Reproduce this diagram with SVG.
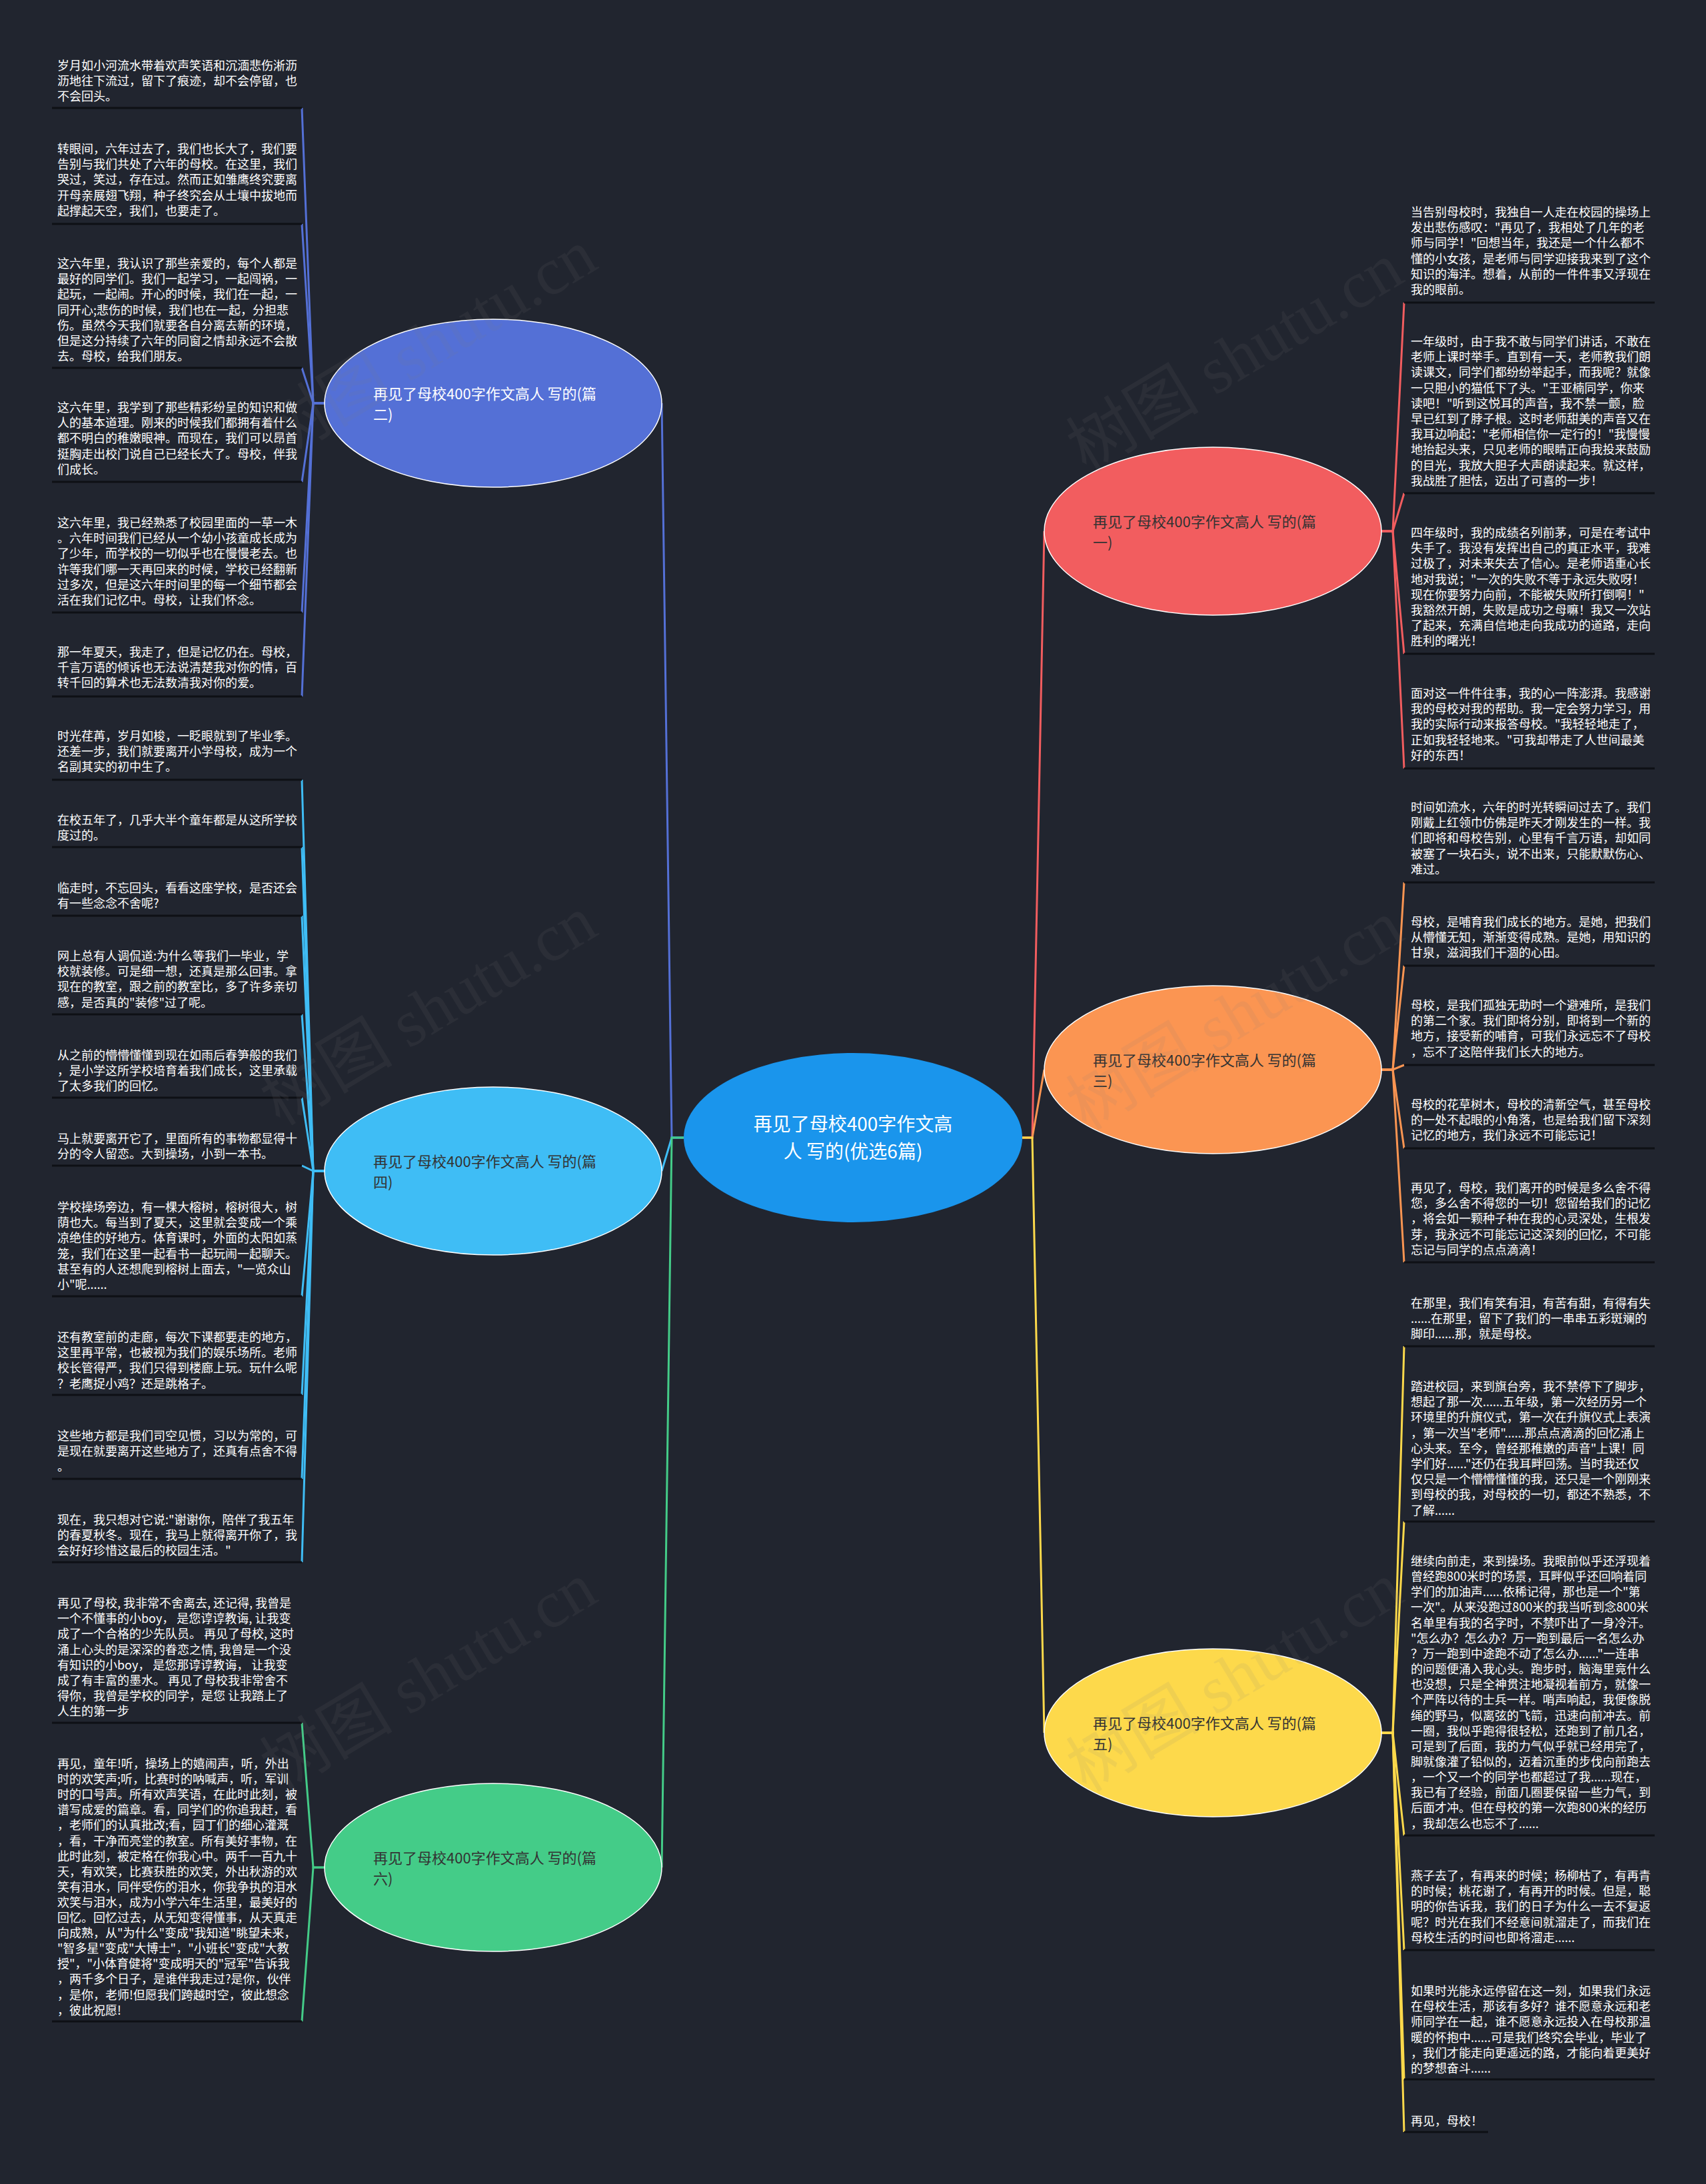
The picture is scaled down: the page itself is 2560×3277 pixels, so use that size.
<svg xmlns="http://www.w3.org/2000/svg" width="2560" height="3277" viewBox="0 0 2560 3277">
<style>
.lt{font-family:"Noto Sans CJK SC","Noto Sans",sans-serif;font-size:18px;fill:#ffffff;}
.ul{stroke:#0e1015;stroke-width:3;}
.nt{font-family:"Noto Sans CJK SC","Noto Sans",sans-serif;font-size:22px;}
.ct{font-family:"Noto Sans CJK SC","Noto Sans",sans-serif;font-size:28px;fill:#ffffff;text-anchor:middle;}
.br{stroke:#ffffff;stroke-width:1.5;}
.wm{font-family:"Liberation Serif","Noto Sans CJK SC",serif;font-size:100px;fill:#808080;opacity:0.1;}
</style>
<rect width="2560" height="3277" fill="#21252f"/>

<g id="connectors" fill="none" stroke-width="3">
<path stroke="#5470d6" d="M1026 1707 H1008 L993 605"/>
<path stroke="#3fbdf5" d="M1026 1707 H1008 L993 1757"/>
<path stroke="#44cc88" d="M1026 1707 H1008 L993 2802"/>
<path stroke="#f25d5f" d="M1534 1707 H1549 L1567 797"/>
<path stroke="#fb9552" d="M1534 1707 H1549 L1567 1605"/>
<path stroke="#fdd94b" d="M1534 1707 H1549 L1567 2600"/>
<g stroke="#5470d6">
<path d="M487 605 H470 L453 162"/><path d="M487 605 H470 L453 336"/><path d="M487 605 H470 L453 552"/><path d="M487 605 H470 L453 723"/><path d="M487 605 H470 L453 919"/><path d="M487 605 H470 L453 1045"/>
</g>
<g stroke="#3fbdf5">
<path d="M487 1757 H470 L453 1170"/><path d="M487 1757 H470 L453 1271"/><path d="M487 1757 H470 L453 1374"/><path d="M487 1757 H470 L453 1522"/><path d="M487 1757 H470 L453 1647"/><path d="M487 1757 H470 L453 1749"/><path d="M487 1757 H470 L453 1945"/><path d="M487 1757 H470 L453 2093"/><path d="M487 1757 H470 L453 2219"/><path d="M487 1757 H470 L453 2344"/>
</g>
<g stroke="#44cc88">
<path d="M487 2802 H470 L453 2585"/><path d="M487 2802 H470 L453 3033"/>
</g>
<g stroke="#f25d5f">
<path d="M2073 797 H2090 L2107 454"/><path d="M2073 797 H2090 L2107 740"/><path d="M2073 797 H2090 L2107 981"/><path d="M2073 797 H2090 L2107 1153"/>
</g>
<g stroke="#fb9552">
<path d="M2073 1605 H2090 L2107 1324"/><path d="M2073 1605 H2090 L2107 1449"/><path d="M2073 1605 H2090 L2107 1598"/><path d="M2073 1605 H2090 L2107 1723"/><path d="M2073 1605 H2090 L2107 1894"/>
</g>
<g stroke="#fdd94b">
<path d="M2073 2600 H2090 L2107 2020"/><path d="M2073 2600 H2090 L2107 2283"/><path d="M2073 2600 H2090 L2107 2754"/><path d="M2073 2600 H2090 L2107 2926"/><path d="M2073 2600 H2090 L2107 3120"/><path d="M2073 2600 H2090 L2107 3199"/>
</g>
</g>

<g id="center">
<ellipse cx="1280" cy="1707" rx="254" ry="127" fill="#1a95ec"/>
<text class="ct" x="1280" y="1697">再见了母校400字作文高</text>
<text class="ct" x="1280" y="1738">人 写的(优选6篇)</text>
</g>

<g id="node-p2">
<ellipse class="br" cx="740" cy="605" rx="253" ry="126" fill="#5470d6"/>
<text class="nt" fill="#ffffff" x="560" y="599"><tspan x="560">再见了母校400字作文高人 写的(篇</tspan><tspan x="560" dy="31">二)</tspan></text>
</g>
<g id="node-p4">
<ellipse class="br" cx="740" cy="1757" rx="253" ry="126" fill="#3fbdf5"/>
<text class="nt" fill="#333333" x="560" y="1751"><tspan x="560">再见了母校400字作文高人 写的(篇</tspan><tspan x="560" dy="31">四)</tspan></text>
</g>
<g id="node-p6">
<ellipse class="br" cx="740" cy="2802" rx="253" ry="126" fill="#44cc88"/>
<text class="nt" fill="#333333" x="560" y="2796"><tspan x="560">再见了母校400字作文高人 写的(篇</tspan><tspan x="560" dy="31">六)</tspan></text>
</g>
<g id="node-p1">
<ellipse class="br" cx="1820" cy="797" rx="253" ry="126" fill="#f25d5f"/>
<text class="nt" fill="#333333" x="1640" y="791"><tspan x="1640">再见了母校400字作文高人 写的(篇</tspan><tspan x="1640" dy="31">一)</tspan></text>
</g>
<g id="node-p3">
<ellipse class="br" cx="1820" cy="1605" rx="253" ry="126" fill="#fb9552"/>
<text class="nt" fill="#333333" x="1640" y="1599"><tspan x="1640">再见了母校400字作文高人 写的(篇</tspan><tspan x="1640" dy="31">三)</tspan></text>
</g>
<g id="node-p5">
<ellipse class="br" cx="1820" cy="2600" rx="253" ry="126" fill="#fdd94b"/>
<text class="nt" fill="#333333" x="1640" y="2594"><tspan x="1640">再见了母校400字作文高人 写的(篇</tspan><tspan x="1640" dy="31">五)</tspan></text>
</g>

<g id="leaves-left">
<g id="leaf-l1"><text class="lt" x="86" y="105"><tspan x="86">岁月如小河流水带着欢声笑语和沉湎悲伤淅沥</tspan><tspan x="86" dy="23.2">沥地往下流过，留下了痕迹，却不会停留，也</tspan><tspan x="86" dy="23.2">不会回头。</tspan></text><line class="ul" x1="78" y1="162" x2="453" y2="162"/></g>
<g id="leaf-l2"><text class="lt" x="86" y="230"><tspan x="86">转眼间，六年过去了，我们也长大了，我们要</tspan><tspan x="86" dy="23.2">告别与我们共处了六年的母校。在这里，我们</tspan><tspan x="86" dy="23.2">哭过，笑过，存在过。然而正如雏鹰终究要离</tspan><tspan x="86" dy="23.2">开母亲展翅飞翔，种子终究会从土壤中拔地而</tspan><tspan x="86" dy="23.2">起撑起天空，我们，也要走了。</tspan></text><line class="ul" x1="78" y1="336" x2="453" y2="336"/></g>
<g id="leaf-l3"><text class="lt" x="86" y="402"><tspan x="86">这六年里，我认识了那些亲爱的，每个人都是</tspan><tspan x="86" dy="23.2">最好的同学们。我们一起学习，一起闯祸，一</tspan><tspan x="86" dy="23.2">起玩，一起闹。开心的时候，我们在一起，一</tspan><tspan x="86" dy="23.2">同开心;悲伤的时候，我们也在一起，分担悲</tspan><tspan x="86" dy="23.2">伤。虽然今天我们就要各自分离去新的环境，</tspan><tspan x="86" dy="23.2">但是这分持续了六年的同窗之情却永远不会散</tspan><tspan x="86" dy="23.2">去。母校，给我们朋友。</tspan></text><line class="ul" x1="78" y1="552" x2="453" y2="552"/></g>
<g id="leaf-l4"><text class="lt" x="86" y="618"><tspan x="86">这六年里，我学到了那些精彩纷呈的知识和做</tspan><tspan x="86" dy="23.2">人的基本道理。刚来的时候我们都拥有着什么</tspan><tspan x="86" dy="23.2">都不明白的稚嫩眼神。而现在，我们可以昂首</tspan><tspan x="86" dy="23.2">挺胸走出校门说自己已经长大了。母校，伴我</tspan><tspan x="86" dy="23.2">们成长。</tspan></text><line class="ul" x1="78" y1="723" x2="453" y2="723"/></g>
<g id="leaf-l5"><text class="lt" x="86" y="791"><tspan x="86">这六年里，我已经熟悉了校园里面的一草一木</tspan><tspan x="86" dy="23.2">。六年时间我们已经从一个幼小孩童成长成为</tspan><tspan x="86" dy="23.2">了少年，而学校的一切似乎也在慢慢老去。也</tspan><tspan x="86" dy="23.2">许等我们哪一天再回来的时候，学校已经翻新</tspan><tspan x="86" dy="23.2">过多次，但是这六年时间里的每一个细节都会</tspan><tspan x="86" dy="23.2">活在我们记忆中。母校，让我们怀念。</tspan></text><line class="ul" x1="78" y1="919" x2="453" y2="919"/></g>
<g id="leaf-l6"><text class="lt" x="86" y="985"><tspan x="86">那一年夏天，我走了，但是记忆仍在。母校，</tspan><tspan x="86" dy="23.2">千言万语的倾诉也无法说清楚我对你的情，百</tspan><tspan x="86" dy="23.2">转千回的算术也无法数清我对你的爱。</tspan></text><line class="ul" x1="78" y1="1045" x2="453" y2="1045"/></g>

<g id="leaf-a"><text class="lt" x="86" y="1111"><tspan x="86">时光荏苒，岁月如梭，一眨眼就到了毕业季。</tspan><tspan x="86" dy="23.2">还差一步，我们就要离开小学母校，成为一个</tspan><tspan x="86" dy="23.2">名副其实的初中生了。</tspan></text><line class="ul" x1="78" y1="1170" x2="453" y2="1170"/></g>
<g id="leaf-b"><text class="lt" x="86" y="1237"><tspan x="86">在校五年了，几乎大半个童年都是从这所学校</tspan><tspan x="86" dy="23.2">度过的。</tspan></text><line class="ul" x1="78" y1="1271" x2="453" y2="1271"/></g>
<g id="leaf-c"><text class="lt" x="86" y="1339"><tspan x="86">临走时，不忘回头，看看这座学校，是否还会</tspan><tspan x="86" dy="23.2">有一些念念不舍呢?</tspan></text><line class="ul" x1="78" y1="1374" x2="453" y2="1374"/></g>
<g id="leaf-d"><text class="lt" x="86" y="1441"><tspan x="86">网上总有人调侃道:为什么等我们一毕业，学</tspan><tspan x="86" dy="23.2">校就装修。可是细一想，还真是那么回事。拿</tspan><tspan x="86" dy="23.2">现在的教室，跟之前的教室比，多了许多亲切</tspan><tspan x="86" dy="23.2">感，是否真的"装修"过了呢。</tspan></text><line class="ul" x1="78" y1="1522" x2="453" y2="1522"/></g>
<g id="leaf-e"><text class="lt" x="86" y="1590"><tspan x="86">从之前的懵懵懂懂到现在如雨后春笋般的我们</tspan><tspan x="86" dy="23.2">，是小学这所学校培育着我们成长，这里承载</tspan><tspan x="86" dy="23.2">了太多我们的回忆。</tspan></text><line class="ul" x1="78" y1="1647" x2="453" y2="1647"/></g>
<g id="leaf-f"><text class="lt" x="86" y="1715"><tspan x="86">马上就要离开它了，里面所有的事物都显得十</tspan><tspan x="86" dy="23.2">分的令人留恋。大到操场，小到一本书。</tspan></text><line class="ul" x1="78" y1="1749" x2="453" y2="1749"/></g>
<g id="leaf-g"><text class="lt" x="86" y="1818"><tspan x="86">学校操场旁边，有一棵大榕树，榕树很大，树</tspan><tspan x="86" dy="23.2">荫也大。每当到了夏天，这里就会变成一个乘</tspan><tspan x="86" dy="23.2">凉绝佳的好地方。体育课时，外面的太阳如蒸</tspan><tspan x="86" dy="23.2">笼，我们在这里一起看书一起玩闹一起聊天。</tspan><tspan x="86" dy="23.2">甚至有的人还想爬到榕树上面去，"一览众山</tspan><tspan x="86" dy="23.2">小"呢......</tspan></text><line class="ul" x1="78" y1="1945" x2="453" y2="1945"/></g>
<g id="leaf-h"><text class="lt" x="86" y="2013"><tspan x="86">还有教室前的走廊，每次下课都要走的地方，</tspan><tspan x="86" dy="23.2">这里再平常，也被视为我们的娱乐场所。老师</tspan><tspan x="86" dy="23.2">校长管得严，我们只得到楼廊上玩。玩什么呢</tspan><tspan x="86" dy="23.2">？老鹰捉小鸡？还是跳格子。</tspan></text><line class="ul" x1="78" y1="2093" x2="453" y2="2093"/></g>
<g id="leaf-i"><text class="lt" x="86" y="2161"><tspan x="86">这些地方都是我们司空见惯，习以为常的，可</tspan><tspan x="86" dy="23.2">是现在就要离开这些地方了，还真有点舍不得</tspan><tspan x="86" dy="23.2">。</tspan></text><line class="ul" x1="78" y1="2219" x2="453" y2="2219"/></g>
<g id="leaf-j"><text class="lt" x="86" y="2287"><tspan x="86">现在，我只想对它说:"谢谢你，陪伴了我五年</tspan><tspan x="86" dy="23.2">的春夏秋冬。现在，我马上就得离开你了，我</tspan><tspan x="86" dy="23.2">会好好珍惜这最后的校园生活。"</tspan></text><line class="ul" x1="78" y1="2344" x2="453" y2="2344"/></g>

<g id="leaf-k"><text class="lt" x="86" y="2412"><tspan x="86">再见了母校, 我非常不舍离去, 还记得, 我曾是</tspan><tspan x="86" dy="23.2">一个不懂事的小boy， 是您谆谆教诲, 让我变</tspan><tspan x="86" dy="23.2">成了一个合格的少先队员。 再见了母校, 这时</tspan><tspan x="86" dy="23.2">涌上心头的是深深的眷恋之情, 我曾是一个没</tspan><tspan x="86" dy="23.2">有知识的小boy， 是您那谆谆教诲， 让我变</tspan><tspan x="86" dy="23.2">成了有丰富的墨水。 再见了母校我非常舍不</tspan><tspan x="86" dy="23.2">得你，我曾是学校的同学，是您 让我踏上了</tspan><tspan x="86" dy="23.2">人生的第一步</tspan></text><line class="ul" x1="78" y1="2585" x2="453" y2="2585"/></g>
<g id="leaf-l"><text class="lt" x="86" y="2653"><tspan x="86">再见，童年!听，操场上的嬉闹声，听，外出</tspan><tspan x="86" dy="23.1">时的欢笑声;听，比赛时的呐喊声，听，军训</tspan><tspan x="86" dy="23.1">时的口号声。所有欢声笑语，在此时此刻，被</tspan><tspan x="86" dy="23.1">谱写成爱的篇章。看，同学们的你追我赶，看</tspan><tspan x="86" dy="23.1">，老师们的认真批改;看，园丁们的细心灌溉</tspan><tspan x="86" dy="23.1">，看，干净而亮堂的教室。所有美好事物，在</tspan><tspan x="86" dy="23.1">此时此刻，被定格在你我心中。两千一百九十</tspan><tspan x="86" dy="23.1">天，有欢笑，比赛获胜的欢笑，外出秋游的欢</tspan><tspan x="86" dy="23.1">笑有泪水，同伴受伤的泪水，你我争执的泪水</tspan><tspan x="86" dy="23.1">欢笑与泪水，成为小学六年生活里，最美好的</tspan><tspan x="86" dy="23.1">回忆。回忆过去，从无知变得懂事，从天真走</tspan><tspan x="86" dy="23.1">向成熟，从"为什么"变成"我知道"眺望未来，</tspan><tspan x="86" dy="23.1">"智多星"变成"大博士"，"小班长"变成"大教</tspan><tspan x="86" dy="23.1">授"，"小体育健将"变成明天的"冠军"告诉我</tspan><tspan x="86" dy="23.1">，两千多个日子，是谁伴我走过?是你，伙伴</tspan><tspan x="86" dy="23.1">，是你，老师!但愿我们跨越时空，彼此想念</tspan><tspan x="86" dy="23.1">，彼此祝愿!</tspan></text><line class="ul" x1="78" y1="3033" x2="453" y2="3033"/></g>
</g>

<g id="leaves-right">
<g id="leaf-r1"><text class="lt" x="2117" y="325"><tspan x="2117">当告别母校时，我独自一人走在校园的操场上</tspan><tspan x="2117" dy="23.2">发出悲伤感叹："再见了，我相处了几年的老</tspan><tspan x="2117" dy="23.2">师与同学！"回想当年，我还是一个什么都不</tspan><tspan x="2117" dy="23.2">懂的小女孩，是老师与同学迎接我来到了这个</tspan><tspan x="2117" dy="23.2">知识的海洋。想着，从前的一件件事又浮现在</tspan><tspan x="2117" dy="23.2">我的眼前。</tspan></text><line class="ul" x1="2107" y1="454" x2="2483" y2="454"/></g>
<g id="leaf-r2"><text class="lt" x="2117" y="519"><tspan x="2117">一年级时，由于我不敢与同学们讲话，不敢在</tspan><tspan x="2117" dy="23.2">老师上课时举手。直到有一天，老师教我们朗</tspan><tspan x="2117" dy="23.2">读课文，同学们都纷纷举起手，而我呢？就像</tspan><tspan x="2117" dy="23.2">一只胆小的猫低下了头。"王亚楠同学，你来</tspan><tspan x="2117" dy="23.2">读吧！"听到这悦耳的声音，我不禁一颤，脸</tspan><tspan x="2117" dy="23.2">早已红到了脖子根。这时老师甜美的声音又在</tspan><tspan x="2117" dy="23.2">我耳边响起："老师相信你一定行的！"我慢慢</tspan><tspan x="2117" dy="23.2">地抬起头来，只见老师的眼睛正向我投来鼓励</tspan><tspan x="2117" dy="23.2">的目光，我放大胆子大声朗读起来。就这样，</tspan><tspan x="2117" dy="23.2">我战胜了胆怯，迈出了可喜的一步！</tspan></text><line class="ul" x1="2107" y1="740" x2="2483" y2="740"/></g>
<g id="leaf-r3"><text class="lt" x="2117" y="806"><tspan x="2117">四年级时，我的成绩名列前茅，可是在考试中</tspan><tspan x="2117" dy="23.2">失手了。我没有发挥出自己的真正水平，我难</tspan><tspan x="2117" dy="23.2">过极了，对未来失去了信心。是老师语重心长</tspan><tspan x="2117" dy="23.2">地对我说；"一次的失败不等于永远失败呀！</tspan><tspan x="2117" dy="23.2">现在你要努力向前，不能被失败所打倒啊！"</tspan><tspan x="2117" dy="23.2">我豁然开朗，失败是成功之母嘛！我又一次站</tspan><tspan x="2117" dy="23.2">了起来，充满自信地走向我成功的道路，走向</tspan><tspan x="2117" dy="23.2">胜利的曙光！</tspan></text><line class="ul" x1="2107" y1="981" x2="2483" y2="981"/></g>
<g id="leaf-r4"><text class="lt" x="2117" y="1047"><tspan x="2117">面对这一件件往事，我的心一阵澎湃。我感谢</tspan><tspan x="2117" dy="23.2">我的母校对我的帮助。我一定会努力学习，用</tspan><tspan x="2117" dy="23.2">我的实际行动来报答母校。"我轻轻地走了，</tspan><tspan x="2117" dy="23.2">正如我轻轻地来。"可我却带走了人世间最美</tspan><tspan x="2117" dy="23.2">好的东西！</tspan></text><line class="ul" x1="2107" y1="1153" x2="2483" y2="1153"/></g>

<g id="leaf-r5"><text class="lt" x="2117" y="1218"><tspan x="2117">时间如流水，六年的时光转瞬间过去了。我们</tspan><tspan x="2117" dy="23.2">刚戴上红领巾仿佛是昨天才刚发生的一样。我</tspan><tspan x="2117" dy="23.2">们即将和母校告别，心里有千言万语，却如同</tspan><tspan x="2117" dy="23.2">被塞了一块石头，说不出来，只能默默伤心、</tspan><tspan x="2117" dy="23.2">难过。</tspan></text><line class="ul" x1="2107" y1="1324" x2="2483" y2="1324"/></g>
<g id="leaf-r6"><text class="lt" x="2117" y="1390"><tspan x="2117">母校，是哺育我们成长的地方。是她，把我们</tspan><tspan x="2117" dy="23.2">从懵懂无知，渐渐变得成熟。是她，用知识的</tspan><tspan x="2117" dy="23.2">甘泉，滋润我们干涸的心田。</tspan></text><line class="ul" x1="2107" y1="1449" x2="2483" y2="1449"/></g>
<g id="leaf-r7"><text class="lt" x="2117" y="1515"><tspan x="2117">母校，是我们孤独无助时一个避难所，是我们</tspan><tspan x="2117" dy="23.2">的第二个家。我们即将分别，即将到一个新的</tspan><tspan x="2117" dy="23.2">地方，接受新的哺育，可我们永远忘不了母校</tspan><tspan x="2117" dy="23.2">，忘不了这陪伴我们长大的地方。</tspan></text><line class="ul" x1="2107" y1="1598" x2="2483" y2="1598"/></g>
<g id="leaf-r8"><text class="lt" x="2117" y="1664"><tspan x="2117">母校的花草树木，母校的清新空气，甚至母校</tspan><tspan x="2117" dy="23.2">的一处不起眼的小角落，也是给我们留下深刻</tspan><tspan x="2117" dy="23.2">记忆的地方，我们永远不可能忘记！</tspan></text><line class="ul" x1="2107" y1="1723" x2="2483" y2="1723"/></g>
<g id="leaf-r9"><text class="lt" x="2117" y="1789"><tspan x="2117">再见了，母校，我们离开的时候是多么舍不得</tspan><tspan x="2117" dy="23.2">您，多么舍不得您的一切！您留给我们的记忆</tspan><tspan x="2117" dy="23.2">，将会如一颗种子种在我的心灵深处，生根发</tspan><tspan x="2117" dy="23.2">芽，我永远不可能忘记这深刻的回忆，不可能</tspan><tspan x="2117" dy="23.2">忘记与同学的点点滴滴！</tspan></text><line class="ul" x1="2107" y1="1894" x2="2483" y2="1894"/></g>

<g id="leaf-r10"><text class="lt" x="2117" y="1962"><tspan x="2117">在那里，我们有笑有泪，有苦有甜，有得有失</tspan><tspan x="2117" dy="23.2">......在那里，留下了我们的一串串五彩斑斓的</tspan><tspan x="2117" dy="23.2">脚印......那，就是母校。</tspan></text><line class="ul" x1="2107" y1="2020" x2="2483" y2="2020"/></g>
<g id="leaf-r11"><text class="lt" x="2117" y="2087"><tspan x="2117">踏进校园，来到旗台旁，我不禁停下了脚步，</tspan><tspan x="2117" dy="23.2">想起了那一次......五年级，第一次经历另一个</tspan><tspan x="2117" dy="23.2">环境里的升旗仪式，第一次在升旗仪式上表演</tspan><tspan x="2117" dy="23.2">，第一次当"老师"......那点点滴滴的回忆涌上</tspan><tspan x="2117" dy="23.2">心头来。至今，曾经那稚嫩的声音"上课！同</tspan><tspan x="2117" dy="23.2">学们好......"还仍在我耳畔回荡。当时我还仅</tspan><tspan x="2117" dy="23.2">仅只是一个懵懵懂懂的我，还只是一个刚刚来</tspan><tspan x="2117" dy="23.2">到母校的我，对母校的一切，都还不熟悉，不</tspan><tspan x="2117" dy="23.2">了解......</tspan></text><line class="ul" x1="2107" y1="2283" x2="2483" y2="2283"/></g>
<g id="leaf-r12"><text class="lt" x="2117" y="2349"><tspan x="2117">继续向前走，来到操场。我眼前似乎还浮现着</tspan><tspan x="2117" dy="23.15">曾经跑800米时的场景，耳畔似乎还回响着同</tspan><tspan x="2117" dy="23.15">学们的加油声......依稀记得，那也是一个"第</tspan><tspan x="2117" dy="23.15">一次"。从来没跑过800米的我当听到念800米</tspan><tspan x="2117" dy="23.15">名单里有我的名字时，不禁吓出了一身冷汗。</tspan><tspan x="2117" dy="23.15">"怎么办？怎么办？万一跑到最后一名怎么办</tspan><tspan x="2117" dy="23.15">？万一跑到中途跑不动了怎么办......"一连串</tspan><tspan x="2117" dy="23.15">的问题便涌入我心头。跑步时，脑海里竟什么</tspan><tspan x="2117" dy="23.15">也没想，只是全神贯注地凝视着前方，就像一</tspan><tspan x="2117" dy="23.15">个严阵以待的士兵一样。哨声响起，我便像脱</tspan><tspan x="2117" dy="23.15">绳的野马，似离弦的飞箭，迅速向前冲去。前</tspan><tspan x="2117" dy="23.15">一圈，我似乎跑得很轻松，还跑到了前几名，</tspan><tspan x="2117" dy="23.15">可是到了后面，我的力气似乎就已经用完了，</tspan><tspan x="2117" dy="23.15">脚就像灌了铅似的，迈着沉重的步伐向前跑去</tspan><tspan x="2117" dy="23.15">，一个又一个的同学也都超过了我......现在，</tspan><tspan x="2117" dy="23.15">我已有了经验，前面几圈要保留一些力气，到</tspan><tspan x="2117" dy="23.15">后面才冲。但在母校的第一次跑800米的经历</tspan><tspan x="2117" dy="23.15">，我却怎么也忘不了......</tspan></text><line class="ul" x1="2107" y1="2754" x2="2483" y2="2754"/></g>
<g id="leaf-r13"><text class="lt" x="2117" y="2821"><tspan x="2117">燕子去了，有再来的时候；杨柳枯了，有再青</tspan><tspan x="2117" dy="23.2">的时候；桃花谢了，有再开的时候。但是，聪</tspan><tspan x="2117" dy="23.2">明的你告诉我，我们的日子为什么一去不复返</tspan><tspan x="2117" dy="23.2">呢？时光在我们不经意间就溜走了，而我们在</tspan><tspan x="2117" dy="23.2">母校生活的时间也即将溜走......</tspan></text><line class="ul" x1="2107" y1="2926" x2="2483" y2="2926"/></g>
<g id="leaf-r14"><text class="lt" x="2117" y="2994"><tspan x="2117">如果时光能永远停留在这一刻，如果我们永远</tspan><tspan x="2117" dy="23.2">在母校生活，那该有多好？谁不愿意永远和老</tspan><tspan x="2117" dy="23.2">师同学在一起，谁不愿意永远投入在母校那温</tspan><tspan x="2117" dy="23.2">暖的怀抱中......可是我们终究会毕业，毕业了</tspan><tspan x="2117" dy="23.2">，我们才能走向更遥远的路，才能向着更美好</tspan><tspan x="2117" dy="23.2">的梦想奋斗......</tspan></text><line class="ul" x1="2107" y1="3120" x2="2483" y2="3120"/></g>
<g id="leaf-r15"><text class="lt" x="2117" y="3189">再见，母校！</text><line class="ul" x1="2107" y1="3199" x2="2233" y2="3199"/></g>
</g>

<g id="watermarks">
<text class="wm" transform="translate(420 690) rotate(-31)">树图 shutu.cn</text>
<text class="wm" transform="translate(420 1690) rotate(-31)">树图 shutu.cn</text>
<text class="wm" transform="translate(420 2690) rotate(-31)">树图 shutu.cn</text>
<text class="wm" transform="translate(1630 710) rotate(-31)">树图 shutu.cn</text>
<text class="wm" transform="translate(1630 1697) rotate(-31)">树图 shutu.cn</text>
<text class="wm" transform="translate(1630 2690) rotate(-31)">树图 shutu.cn</text>
</g>
</svg>
